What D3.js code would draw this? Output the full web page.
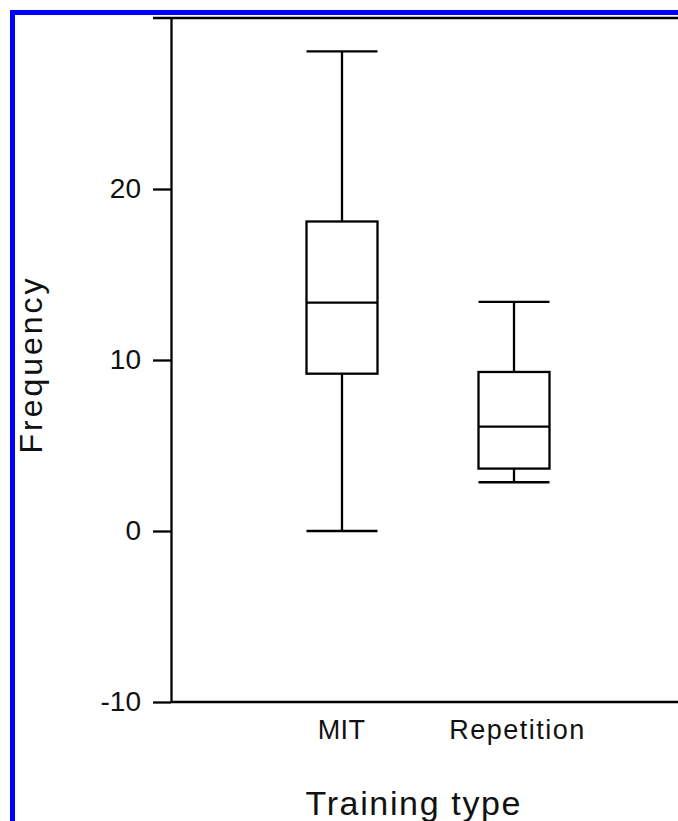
<!DOCTYPE html>
<html>
<head>
    <meta charset="utf-8">
    <title>Frequency by training type</title>
    <script src="https://d3js.org/d3.v7.min.js"></script>
    <style>
        body { margin: 0; background: #fff; }
        svg { display: block; font-family: Arial, "Liberation Sans", sans-serif; }
    </style>
</head>
<body>
    <svg id="chart"></svg>

    <script>
        // box plot values
        const categories = ["MIT", "Repetition"];
        const whiskerLow = [0, 2.85];
        const q1 = [9.2, 3.65];
        const median = [13.35, 6.1];
        const q3 = [18.1, 9.3];
        const whiskerHigh = [28.05, 13.4];
        const yTicks = [-10, 0, 10, 20];

        const width = 678;
        const height = 821;
        const axisX = 171;
        const axisTop = 18;
        const axisBottom = 702;
        const boxWidth = 71;
        const lw = 2.3;

        const svg = d3.select("#chart")
            .attr("width", width)
            .attr("height", height);

        // blue frame around the picture (only left and top visible)
        svg.append("rect")
            .attr("x", 12.5)
            .attr("y", 12.5)
            .attr("width", width + 20)
            .attr("height", height + 20)
            .attr("fill", "none")
            .attr("stroke", "#0000ff")
            .attr("stroke-width", 5);

        // scales
        const x = d3.scalePoint()
            .domain(categories)
            .range([axisX - 1, axisX + 515])
            .padding(1);

        const y = d3.scaleLinear()
            .domain([-10, 30])
            .range([axisBottom, axisTop]);

        // top frame line
        svg.append("line")
            .attr("x1", 153).attr("x2", width)
            .attr("y1", y(30)).attr("y2", y(30))
            .attr("stroke", "#000")
            .attr("stroke-width", 2.6);

        // y axis
        const yAxis = svg.append("g")
            .attr("transform", `translate(${axisX},0)`)
            .call(d3.axisLeft(y).tickValues(yTicks).tickFormat(d => String(d))
                .tickSize(18).tickSizeOuter(0).tickPadding(12));
        yAxis.select(".domain").attr("stroke-width", lw);
        yAxis.selectAll(".tick line").attr("stroke-width", lw);
        yAxis.selectAll(".tick text")
            .attr("font-size", 28)
            .attr("font-family", "Arial, 'Liberation Sans', sans-serif")
            .attr("fill", "#111");

        // x axis
        const xAxis = svg.append("g")
            .attr("transform", `translate(0,${axisBottom})`)
            .call(d3.axisBottom(x).tickSize(0).tickPadding(18));
        xAxis.select(".domain")
            .attr("d", `M${axisX},0H${width}`)
            .attr("stroke-width", lw);
        xAxis.selectAll(".tick text")
            .attr("font-size", 27)
            .attr("font-family", "Arial, 'Liberation Sans', sans-serif")
            .attr("letter-spacing", d => d === "Repetition" ? 1.5 : 0.4)
            .attr("dx", d => d === "Repetition" ? 3 : -1)
            .attr("fill", "#111");

        // boxes
        const boxes = svg.selectAll(".box")
            .data(categories)
            .join("g")
            .attr("class", "box")
            .attr("stroke", "#000")
            .attr("stroke-width", lw)
            .attr("fill", "none");

        // whiskers
        boxes.append("line")
            .attr("x1", d => x(d)).attr("x2", d => x(d))
            .attr("y1", (d, i) => y(whiskerHigh[i]))
            .attr("y2", (d, i) => y(q3[i]));
        boxes.append("line")
            .attr("x1", d => x(d)).attr("x2", d => x(d))
            .attr("y1", (d, i) => y(q1[i]))
            .attr("y2", (d, i) => y(whiskerLow[i]));

        // caps
        boxes.append("line")
            .attr("x1", d => x(d) - boxWidth / 2).attr("x2", d => x(d) + boxWidth / 2)
            .attr("y1", (d, i) => y(whiskerHigh[i]))
            .attr("y2", (d, i) => y(whiskerHigh[i]));
        boxes.append("line")
            .attr("x1", d => x(d) - boxWidth / 2).attr("x2", d => x(d) + boxWidth / 2)
            .attr("y1", (d, i) => y(whiskerLow[i]))
            .attr("y2", (d, i) => y(whiskerLow[i]));

        // box
        boxes.append("rect")
            .attr("x", d => x(d) - boxWidth / 2)
            .attr("width", boxWidth)
            .attr("y", (d, i) => y(q3[i]))
            .attr("height", (d, i) => y(q1[i]) - y(q3[i]))
            .attr("fill", "#fff");

        // median
        boxes.append("line")
            .attr("x1", d => x(d) - boxWidth / 2).attr("x2", d => x(d) + boxWidth / 2)
            .attr("y1", (d, i) => y(median[i]))
            .attr("y2", (d, i) => y(median[i]));

        // axis titles
        svg.append("text")
            .attr("transform", "translate(42,366) rotate(-90)")
            .attr("text-anchor", "middle")
            .attr("font-size", 32)
            .attr("fill", "#111")
            .attr("textLength", 175)
            .attr("lengthAdjust", "spacing")
            .text("Frequency");

        svg.append("text")
            .attr("x", 413)
            .attr("y", 815)
            .attr("text-anchor", "middle")
            .attr("font-size", 34)
            .attr("fill", "#111")
            .attr("textLength", 215)
            .attr("lengthAdjust", "spacing")
            .text("Training type");
    </script>
</body>
</html>
